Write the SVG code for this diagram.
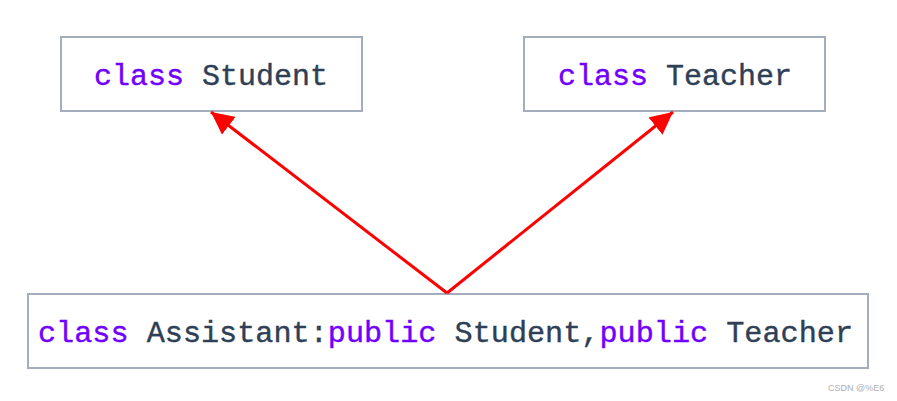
<svg xmlns="http://www.w3.org/2000/svg" width="897" height="401" viewBox="0 0 897 401">
<style>
.box{fill:#fff;stroke:#a3adbd;stroke-width:2}
.t{font-family:"Liberation Mono","DejaVu Sans Mono",monospace;font-size:30px;fill:#2f3f56;white-space:pre;stroke:#2f3f56;stroke-width:0.4}
.k{fill:#7000ff;stroke:#7000ff}
.c{stroke:#ff0000;stroke-width:3;fill:none}
.wm{font-family:"Liberation Sans",Arial,sans-serif;font-size:9px;fill:#b0b0b0}
</style>
<defs>
<marker id="ah" viewBox="0 0 10 10" refX="10" refY="5" markerWidth="7.5" markerHeight="7.5" orient="auto" markerUnits="strokeWidth">
<path d="M0,0 L10,5 L0,10 z" fill="#ff0000"/>
</marker>
</defs>
<rect width="897" height="401" fill="#fff"/>
<g id="student">
<rect class="box" x="61" y="37" width="301" height="74"/>
<text class="t" x="94" y="85" textLength="234" lengthAdjust="spacingAndGlyphs"><tspan class="k">class</tspan> Student</text>
</g>
<g id="teacher">
<rect class="box" x="524" y="37" width="301" height="74"/>
<text class="t" x="558" y="85" textLength="234" lengthAdjust="spacingAndGlyphs"><tspan class="k">class</tspan> Teacher</text>
</g>
<g id="assistant">
<rect class="box" x="28" y="294" width="840" height="74"/>
<text class="t" x="38" y="342" textLength="815" lengthAdjust="spacingAndGlyphs"><tspan class="k">class</tspan> Assistant:<tspan class="k">public</tspan> Student,<tspan class="k">public</tspan> Teacher</text>
</g>
<g id="connectors">
<polyline class="c" points="447,293 211,112" marker-end="url(#ah)"/>
<polyline class="c" points="447,293 673,112" marker-end="url(#ah)"/>
</g>
<text class="wm" x="828" y="391">CSDN @%E6</text>
</svg>
